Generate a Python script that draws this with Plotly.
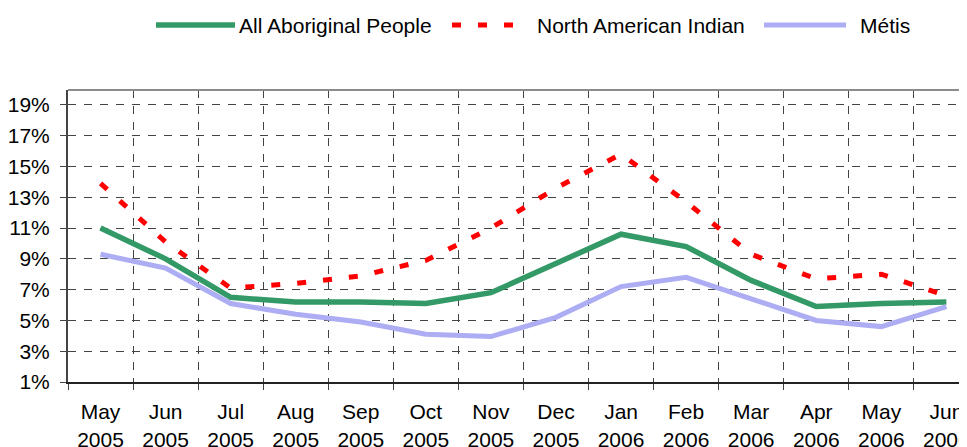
import plotly.graph_objects as go

months = ["May<br>2005", "Jun<br>2005", "Jul<br>2005", "Aug<br>2005", "Sep<br>2005",
          "Oct<br>2005", "Nov<br>2005", "Dec<br>2005", "Jan<br>2006", "Feb<br>2006",
          "Mar<br>2006", "Apr<br>2006", "May<br>2006", "Jun<br>2006"]
all_aboriginal = [11.0, 9.0, 6.5, 6.2, 6.2, 6.1, 6.8, 8.7, 10.6, 9.8, 7.6, 5.9, 6.1, 6.2]
north_american_indian = [13.9, 10.1, 7.1, 7.4, 7.9, 8.9, 11.0, 13.6, 15.8, 12.7, 9.3, 7.7, 8.0, 6.6]
metis = [9.3, 8.4, 6.1, 5.4, 4.9, 4.1, 3.95, 5.2, 7.2, 7.8, 6.4, 5.0, 4.6, 5.9]
series_names = ["All Aboriginal People", "North American Indian", "Métis"]
y_ticks = [1, 3, 5, 7, 9, 11, 13, 15, 17, 19]
y_tick_labels = [f"{v}%" for v in y_ticks]

FONT = "Liberation Sans, Arial, sans-serif"
FS = 21
styles = [
    dict(color="#339966", width=5.5),
    dict(color="#ff0000", width=5, dash="9px,17px"),
    dict(color="#adadf3", width=5),
]
values = [all_aboriginal, north_american_indian, metis]

fig = go.Figure()
for name, vals, st in zip(series_names, values, styles):
    fig.add_trace(go.Scatter(x=months, y=vals, mode="lines", name=name,
                             line=st, showlegend=False))

# page body adds an 8px offset; the right part of the plot runs past the window edge
FIG_W, FIG_H = 967, 439
M_L, M_T, M_B = 60, 82, 65
W_PLOT = FIG_W - M_L
H_PLOT = FIG_H - M_T - M_B

def px2x(px):  # window px -> paper x
    return (px - 8 - M_L) / W_PLOT

def py2y(py):  # window px -> paper y
    return (FIG_H - M_B - (py - 8)) / H_PLOT

leg_y = py2y(25)
leg_items = [(156, 235, 237), (452, 526, 535), (764, 846, 858)]
shapes = []
annotations = []
for (x0, x1, xt), name, st in zip(leg_items, series_names, styles):
    shapes.append(dict(type="line", xref="paper", yref="paper",
                       x0=px2x(x0), x1=px2x(x1), y0=leg_y, y1=leg_y,
                       line=st))
    annotations.append(dict(xref="paper", yref="paper", x=px2x(xt), y=leg_y,
                            text=name, showarrow=False, xanchor="left",
                            yanchor="middle",
                            font=dict(family=FONT, size=FS, color="#000")))

# grey top border of plot area
shapes.append(dict(type="line", xref="paper", yref="paper", x0=0, x1=1,
                   y0=1, y1=1, line=dict(color="#8c8c8c", width=2)))

fig.update_layout(
    width=FIG_W, height=FIG_H,
    margin=dict(l=M_L, r=0, t=M_T, b=M_B, autoexpand=False),
    paper_bgcolor="white", plot_bgcolor="white",
    font=dict(family=FONT, size=FS, color="#000"),
    shapes=shapes, annotations=annotations,
    xaxis=dict(type="category", range=[-0.5, 13.44], tickson="boundaries",
               showgrid=True, gridcolor="#444", griddash="8px,8px", gridwidth=1,
               ticks="outside", ticklen=6, tickcolor="#444", tickwidth=1,
               showline=True, linecolor="#222", linewidth=2,
               tickfont=dict(family=FONT, size=FS), ticklabelstandoff=10),
    yaxis=dict(range=[1, 19.97], tickvals=y_ticks, ticktext=y_tick_labels,
               showgrid=True, gridcolor="#444", griddash="8px,8px", gridwidth=1,
               ticks="outside", ticklen=6, tickcolor="#444", tickwidth=1,
               showline=True, linecolor="#444", linewidth=2, zeroline=False,
               tickfont=dict(family=FONT, size=FS), ticklabelstandoff=6),
)

fig.write_html("out.html")
